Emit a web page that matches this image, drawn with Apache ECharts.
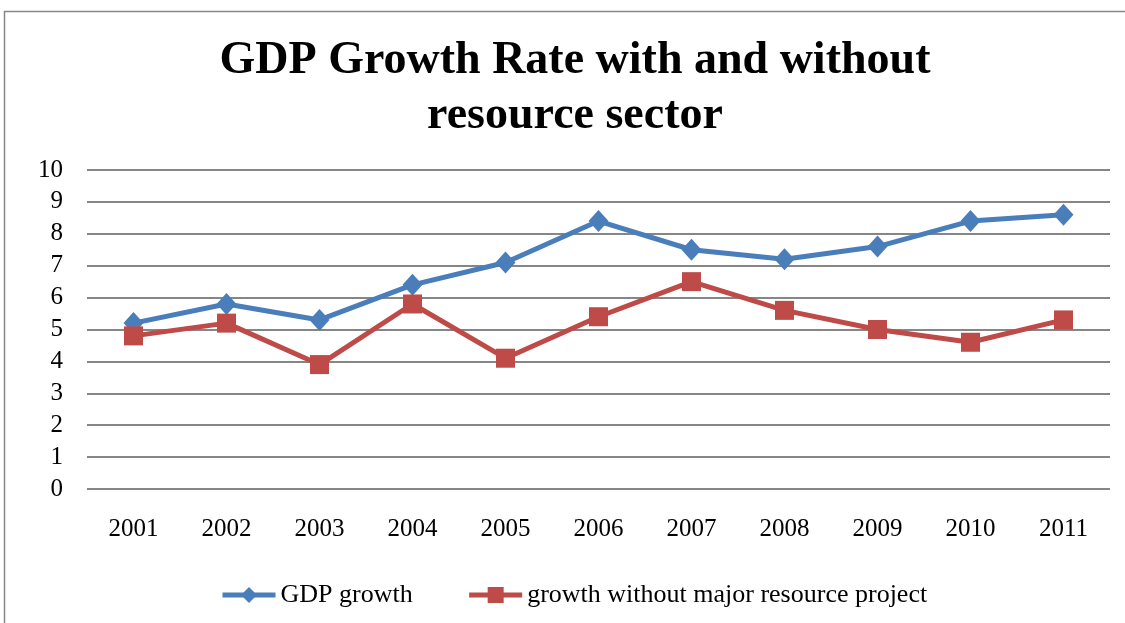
<!DOCTYPE html>
<html>
<head>
<meta charset="utf-8">
<script src="https://cdn.jsdelivr.net/npm/echarts@6/dist/echarts.min.js"></script>
<style>
html,body{margin:0;padding:0;background:#fff;}
#c{width:1125px;height:623px;}
</style>
</head>
<body>
<div id="c"></div>
<script>
const titleLines = ['GDP Growth Rate with and without', 'resource sector'];
const years = ['2001','2002','2003','2004','2005','2006','2007','2008','2009','2010','2011'];
const gdpGrowth = [5.2, 5.8, 5.3, 6.4, 7.1, 8.4, 7.5, 7.2, 7.6, 8.4, 8.6];
const growthWithoutResource = [4.8, 5.2, 3.9, 5.8, 4.1, 5.4, 6.5, 5.6, 5.0, 4.6, 5.3];
const seriesNames = ['GDP growth', 'growth without major resource project'];

const serif = '"Liberation Serif", "Times New Roman", serif';
const chart = echarts.init(document.getElementById('c'));
chart.setOption({
  animation: false,
  backgroundColor: '#fff',
  graphic: [{
    type: 'rect',
    shape: {x: 4.5, y: 11.5, width: 1140, height: 640},
    style: {fill: 'none', stroke: '#868686', lineWidth: 1.5},
    silent: true
  }, {
    type: 'text',
    x: 575,
    y: 34,
    silent: true,
    style: {
      text: titleLines.join('\n'),
      align: 'center',
      verticalAlign: 'top',
      fontFamily: serif,
      fontWeight: 'bold',
      fontSize: 46,
      lineHeight: 55,
      fill: '#000'
    }
  }],
  legend: {
    top: 577,
    left: 215,
    itemWidth: 53,
    itemHeight: 20,
    itemGap: 54,
    lineStyle: {width: 5},
    textStyle: {fontFamily: serif, fontSize: 26, color: '#000'},
    data: seriesNames
  },
  grid: {left: 87, right: 15, top: 170, bottom: 134},
  xAxis: {
    type: 'category',
    data: years,
    boundaryGap: true,
    axisLine: {show: false},
    axisTick: {show: false},
    axisLabel: {fontFamily: serif, fontSize: 25, color: '#000', margin: 28}
  },
  yAxis: {
    type: 'value',
    min: 0, max: 10, interval: 1,
    axisLine: {show: false},
    axisTick: {show: false},
    axisLabel: {fontFamily: serif, fontSize: 25, color: '#000', margin: 24},
    splitLine: {lineStyle: {color: '#868686', width: 2}}
  },
  series: [{
    name: seriesNames[0],
    type: 'line',
    data: gdpGrowth,
    symbol: 'diamond',
    symbolSize: [20, 22],
    color: '#4A7EBB',
    lineStyle: {width: 5, color: '#4A7EBB'},
    itemStyle: {color: '#4A7EBB'}
  }, {
    name: seriesNames[1],
    type: 'line',
    data: growthWithoutResource,
    symbol: 'rect',
    symbolSize: 19,
    color: '#BE4B48',
    lineStyle: {width: 5, color: '#BE4B48'},
    itemStyle: {color: '#BE4B48'}
  }]
});
</script>
</body>
</html>
